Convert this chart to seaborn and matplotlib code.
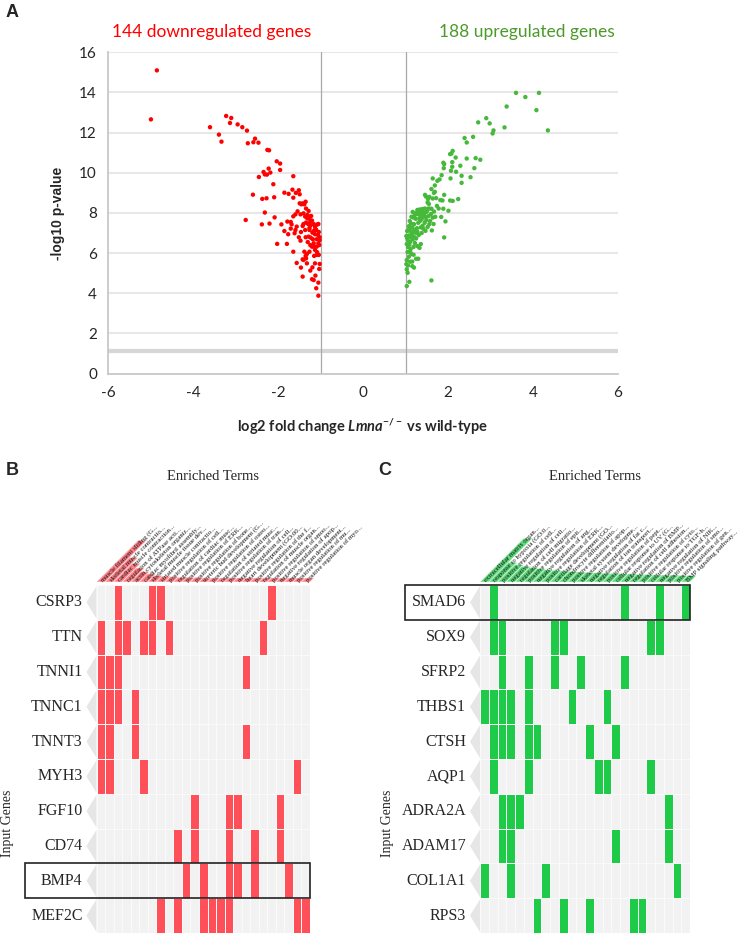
import pandas as pd
import matplotlib
matplotlib.use('Agg')
import matplotlib.pyplot as plt
from matplotlib.colors import ListedColormap
from matplotlib.patches import Polygon, Rectangle
import seaborn as sns

# ---- Panel A: volcano plot (log2 fold change, -log10 p-value)
down_lfc = [-4.85, -4.99, -3.60, -3.22, -3.10, -3.13, -3.39, -3.33, -2.95, -2.84, -2.73, -2.71, -2.58, -2.54,
            -2.46, -2.25, -2.21, -2.03, -1.95, -1.95, -2.34, -2.31, -2.22, -2.18, -2.26, -2.45, -1.64, -2.11,
            -2.59, -2.37, -2.27, -2.09, -1.85, -1.75, -1.66, -1.58, -1.51, -1.49, -1.64, -2.76, -2.31, -2.38,
            -2.20, -2.08, -2.02, -1.79, -1.92, -1.85, -1.78, -1.76, -1.70, -1.68, -1.64, -1.61, -1.59, -1.56,
            -1.59, -1.54, -1.49, -1.45, -1.42, -1.38, -1.35, -1.40, -1.34, -1.47, -1.36, -1.31, -1.27, -1.26,
            -1.31, -1.24, -1.20, -1.34, -1.29, -1.23, -1.16, -1.13, -1.08, -1.05, -1.10, -1.15, -1.26, -1.36,
            -1.42, -1.46, -1.51, -1.47, -1.35, -1.28, -1.23, -1.18, -1.13, -1.06, -1.02, -1.02, -1.05, -1.09,
            -1.16, -1.20, -1.26, -1.38, -1.32, -1.35, -1.13, -1.09, -1.04, -1.15, -1.64, -1.56, -1.46, -1.42,
            -1.40, -1.32, -1.34, -1.24, -1.19, -1.13, -1.02, -1.03, -1.42, -1.20, -1.16, -1.12, -1.05, -1.10,
            -1.05, -1.09, -1.15, -1.26, -1.19, -1.28, -1.22, -1.12, -1.04, -1.03, -1.08, -1.30, -1.24, -1.70,
            -1.40]
down_p = [15.10, 12.66, 12.27, 12.83, 12.73, 12.48, 11.90, 11.55, 12.41, 12.27, 12.10, 11.47, 11.52, 11.70,
          11.50, 11.14, 11.12, 10.57, 10.46, 10.14, 10.04, 9.92, 10.21, 10.01, 9.91, 9.79, 9.83, 9.43,
          8.91, 8.70, 8.73, 8.78, 9.01, 8.95, 9.16, 9.00, 9.13, 8.93, 8.76, 7.65, 8.02, 7.43,
          7.47, 7.78, 6.46, 6.46, 7.43, 7.10, 7.57, 6.94, 7.22, 7.43, 7.83, 6.99, 7.15, 7.32,
          7.93, 8.08, 8.48, 8.43, 8.48, 8.43, 8.56, 7.98, 8.22, 7.93, 7.82, 7.90, 7.82, 7.72,
          7.73, 7.58, 7.62, 7.52, 7.45, 7.39, 7.45, 7.32, 7.42, 7.45, 7.15, 7.12, 7.25, 7.15,
          7.35, 7.05, 6.79, 6.62, 6.79, 6.82, 6.77, 6.69, 6.94, 6.90, 6.79, 6.65, 6.49, 6.32,
          6.49, 6.32, 6.07, 6.07, 5.96, 5.86, 6.16, 5.91, 5.91, 5.86, 6.07, 5.51, 5.28, 5.69,
          5.66, 5.49, 5.74, 5.13, 5.29, 5.49, 5.46, 5.21, 4.83, 4.70, 4.66, 4.88, 4.53, 4.25,
          3.88, 6.69, 6.32, 7.15, 7.02, 8.10, 7.85, 7.20, 7.05, 6.40, 6.05, 6.55, 6.40, 7.55,
          7.45]
up_lfc = [3.60, 3.82, 4.14, 3.38, 4.08, 4.35, 2.71, 2.90, 2.98, 3.33, 3.07, 3.05, 2.39, 2.59, 2.44, 2.11,
          2.08, 2.05, 2.18, 2.44, 2.65, 2.76, 1.89, 1.91, 2.10, 1.90, 2.10, 2.29, 2.07, 2.19, 2.62, 1.85,
          2.32, 2.53, 1.64, 1.80, 1.75, 2.06, 2.32, 1.69, 1.61, 1.69, 1.67, 1.46, 1.48, 1.56, 1.91, 1.64,
          1.53, 1.52, 1.72, 1.82, 1.87, 2.05, 2.11, 2.24, 1.33, 1.39, 1.45, 1.52, 1.56, 1.61, 1.78, 1.89,
          2.01, 1.67, 1.50, 1.42, 1.29, 1.36, 1.41, 1.47, 1.54, 1.64, 1.70, 1.14, 1.19, 1.24, 1.33, 1.38,
          1.94, 1.13, 1.20, 1.30, 1.45, 1.56, 1.08, 1.16, 1.27, 1.36, 1.42, 1.47, 1.62, 1.11, 1.19, 1.25,
          1.28, 1.38, 1.02, 1.08, 1.13, 1.20, 1.91, 1.05, 1.11, 1.17, 1.25, 1.03, 1.09, 1.36, 1.19, 1.33,
          1.05, 1.11, 1.14, 1.19, 1.08, 1.25, 1.30, 1.03, 1.11, 1.16, 1.02, 1.06, 1.16, 1.20, 1.03, 1.05,
          1.09, 1.61, 1.03, 1.22, 1.26, 1.35, 1.44, 1.49, 1.58, 1.34, 1.10, 1.04, 1.15, 1.06, 1.12, 1.22,
          1.28, 1.40, 1.52, 1.60, 1.74, 1.55, 1.84, 1.66, 1.21, 1.31, 1.04, 1.09, 1.17, 1.28]
up_p = [13.98, 13.77, 13.98, 13.30, 13.12, 12.11, 12.51, 12.72, 12.46, 12.26, 12.11, 11.96, 11.73, 11.79, 11.51, 11.09,
        10.96, 10.93, 10.76, 10.71, 10.73, 10.65, 10.50, 10.43, 10.53, 10.23, 10.30, 10.35, 10.10, 10.05, 10.23, 9.88,
        9.85, 9.78, 9.72, 9.67, 9.60, 9.72, 9.50, 9.37, 9.19, 9.05, 9.00, 8.90, 8.82, 8.80, 8.90, 8.72,
        8.69, 8.52, 8.74, 8.64, 8.62, 8.62, 8.60, 8.69, 8.17, 8.19, 8.22, 8.21, 8.22, 8.21, 8.22, 8.21,
        8.11, 8.07, 8.06, 8.04, 7.94, 7.92, 7.81, 7.81, 7.84, 7.77, 7.81, 7.81, 7.77, 7.71, 7.74, 7.68,
        7.58, 7.48, 7.44, 7.51, 7.51, 7.44, 7.34, 7.28, 7.24, 7.28, 7.21, 7.11, 7.13, 7.11, 7.04, 7.01,
        7.06, 7.00, 6.85, 6.88, 6.78, 6.81, 6.78, 6.65, 6.56, 6.68, 6.73, 6.45, 6.41, 6.45, 6.31, 6.26,
        6.05, 6.08, 5.95, 5.92, 5.82, 5.72, 5.72, 5.65, 5.57, 5.58, 5.45, 5.38, 5.35, 5.28, 5.19, 5.02,
        4.57, 4.64, 4.36, 7.90, 8.00, 8.05, 7.95, 7.65, 7.60, 7.60, 7.60, 7.10, 6.95, 6.30, 6.20, 6.50,
        6.35, 7.35, 7.30, 7.95, 8.35, 8.45, 7.80, 7.45, 7.15, 6.90, 6.75, 7.22, 8.05, 8.15]

# ---- Panel B: muscle-related enrichment clustergram
genes_b = ['CSRP3', 'TTN', 'TNNI1', 'TNNC1', 'TNNT3', 'MYH3', 'FGF10', 'CD74', 'BMP4', 'MEF2C']
terms_b = ['muscle filament sliding (G...', 'skeletal muscle contractio...', 'cardiac muscle contraction...',
           'regulation of ATPase acti...', 'actin cytoskeleton organiz...', 'cardiac myofibril assembly...',
           'skeletal muscle tissue dev...', 'striated muscle contractio...', 'positive regulation of cell...',
           'regulation of cardiac musc...', 'positive regulation of ERK...', 'positive regulation of bone...',
           'ureteric bud development (G...', 'positive regulation of osteo...', 'regulation of striated musc...',
           'positive regulation of tran...', 'negative regulation of cell...', 'heart development (GO:00...',
           'positive regulation of the f...', 'regulation of muscle organ...', 'positive regulation of smoo...',
           'negative regulation of apop...', 'muscle organ development...', 'positive regulation of mu...',
           'positive regulation of myo...']
hits_b = [[2, 6, 7, 20], [0, 2, 3, 5, 6, 8, 19], [0, 1, 2, 17], [0, 1, 2, 4], [0, 1, 4, 17],
          [0, 1, 5, 23], [11, 15, 16, 21], [9, 11, 15, 18, 21], [10, 12, 15, 16, 18, 22],
          [7, 9, 12, 13, 14, 15, 23, 24]]
score_b = [0.72, 0.42, 0.32, 0.24, 0.18, 0.14, 0.11, 0.1, 0.09, 0.08, 0.08, 0.08, 0.07, 0.07, 0.07,
           0.07, 0.07, 0.07, 0.07, 0.07, 0.07, 0.07, 0.07, 0.07, 0.07]
boxed_b = 'BMP4'

# ---- Panel C: fibrosis / ECM enrichment clustergram
genes_c = ['SMAD6', 'SOX9', 'SFRP2', 'THBS1', 'CTSH', 'AQP1', 'ADRA2A', 'ADAM17', 'COL1A1', 'RPS3']
terms_c = ['extracellular matrix organ...', 'response to hypoxia (GO:0...', 'positive regulation of cell...',
           'negative regulation of cell...', 'regulation of cell migratio...', 'positive regulation of epit...',
           'negative regulation of ang...', 'positive regulation of ERK...', 'cartilage development (GO...',
           'chondrocyte differentiatio...', 'positive regulation of apop...', 'skeletal system developme...',
           'negative regulation of fat c...', 'regulation of ion transport...', 'positive regulation of pept...',
           'cellular response to UV (G...', 'negative regulation of BMP...', 'regulation of cell adhesion...',
           'positive regulation of cyto...', 'cellular response to TGF-b...', 'negative regulation of NIK...',
           'positive regulation of smo...', 'positive regulation of gen...', 'BMP signaling pathway...']
hits_c = [[1, 16, 20, 23], [1, 2, 8, 9, 19, 20], [2, 5, 8, 11, 16], [0, 1, 2, 3, 5, 10, 14],
          [1, 2, 3, 5, 6, 12, 15], [1, 5, 13, 14, 19], [2, 3, 4, 21], [2, 3, 15, 21],
          [0, 3, 7, 22], [6, 9, 12, 17, 18]]
score_c = [0.75, 0.34, 0.3, 0.27, 0.25, 0.23, 0.21, 0.2, 0.19, 0.18, 0.17, 0.16, 0.16, 0.15, 0.15,
           0.14, 0.14, 0.13, 0.13, 0.12, 0.12, 0.12, 0.11, 0.11]
boxed_c = 'SMAD6'

sns.set_style('white')
plt.rcParams['font.family'] = ['Lato', 'DejaVu Sans']
plt.rcParams['axes.unicode_minus'] = False
plt.rcParams['mathtext.fontset'] = 'custom'
plt.rcParams['mathtext.rm'] = 'Lato:bold'
plt.rcParams['mathtext.it'] = 'Lato:italic:bold'

W, H = 750, 936
fig = plt.figure(figsize=(7.5, 9.36), dpi=100)


def rect(l, t, r, b):
    # pixel edges -> figure fraction rect for add_axes
    return [l / W, 1 - b / H, (r - l) / W, (b - t) / H]


# ================= A =================
vol = pd.DataFrame({'lfc': down_lfc + up_lfc, 'p': down_p + up_p,
                    'dir': ['down'] * len(down_lfc) + ['up'] * len(up_lfc)})
axA = fig.add_axes(rect(108, 52.3, 618, 373.6))
for v in range(2, 17, 2):
    axA.axhline(v, color='#e3e3e3', lw=1.2, zorder=0)
axA.axhline(1.15, color='#d6d6d6', lw=3, zorder=0)
axA.axvline(-1, color='#a8a8a8', lw=0.9, zorder=1)
axA.axvline(1, color='#a8a8a8', lw=0.9, zorder=1)
sns.scatterplot(data=vol, x='lfc', y='p', hue='dir', palette={'down': '#ff0000', 'up': '#46b83a'},
                s=10, linewidth=0, legend=False, ax=axA, zorder=3)
axA.set_xlim(-6, 6)
axA.set_ylim(0, 16)
axA.set_xticks(range(-6, 7, 2))
axA.set_xticks(range(-5, 6, 2), minor=True)
axA.set_yticks(range(0, 17, 2))
for s in ['top', 'right']:
    axA.spines[s].set_visible(False)
for s in ['left', 'bottom']:
    axA.spines[s].set_color('#c4c4c4')
    axA.spines[s].set_linewidth(1.2)
axA.tick_params(which='both', direction='out', length=5, color='#c4c4c4', labelsize=11, pad=4)
axA.tick_params(axis='y', length=4)
axA.set_ylabel('-log10 p-value', fontsize=10, fontweight='bold', family='Liberation Sans')
axA.yaxis.set_label_coords(-0.085, 0.5)
axA.set_xlabel(r'log2 fold change $\mathit{Lmna}^{-/-}$ vs wild-type', fontsize=10.5, fontweight='bold')
axA.xaxis.set_label_coords(0.5, -0.135)
fig.text(212 / W, 1 - 32 / H, '144 downregulated genes', color='#ff0000', fontsize=12.5, ha='center', va='center')
fig.text(527 / W, 1 - 32 / H, '188 upregulated genes', color='#4c9a2a', fontsize=12.5, ha='center', va='center')
fig.text(6 / W, 1 - 4 / H, 'A', fontsize=13, fontweight='bold', family='Liberation Sans', va='top')


# ================= B / C =================
def clustergram(l, t, r, b, genes, terms, hits, scores, boxed, box_left, hot, letter, letter_x, title_x, ylab_x):
    mat = pd.DataFrame(0, index=genes, columns=terms)
    for gi, cols in enumerate(hits):
        mat.iloc[gi, cols] = 1
    ax = fig.add_axes(rect(l, t, r, b))
    sns.heatmap(mat, cmap=ListedColormap(['#f2f2f2', hot]), vmin=0, vmax=1, cbar=False,
                linewidths=0.7, linecolor='#fafafa', xticklabels=False, yticklabels=True, ax=ax)
    ax.tick_params(axis='y', length=0, pad=10)
    for lab in ax.get_yticklabels():
        lab.set_rotation(0)
        lab.set_fontfamily('Liberation Serif')
        lab.set_fontsize(11.5)
    ax.set_ylabel('Input Genes', family='Liberation Serif', fontsize=10)
    ax.yaxis.set_label_coords(ylab_x, 0.316)
    cw = (r - l) / len(terms)
    tab = 10 / cw
    for gi in range(len(genes)):
        ax.add_patch(Polygon([(0, gi + 0.03), (-tab, gi + 0.5), (0, gi + 0.97)], closed=True,
                             facecolor='#e6e6e6', lw=0, clip_on=False))
    k = genes.index(boxed)
    ax.add_patch(Rectangle(((box_left - l) / cw, k), len(terms) - (box_left - l) / cw, 1,
                           fill=False, edgecolor='#222222', lw=1.2, clip_on=False, zorder=5))
    # diagonal term labels
    hx = fig.add_axes(rect(l, t - 66, r + 75, t - 3))
    hx.set_xlim(0, r + 75 - l)
    hx.set_ylim(0, 63)
    hx.axis('off')
    L = 58
    for i, (term, sc) in enumerate(zip(terms, scores)):
        x0 = i * cw
        hl = sc * L
        hx.add_patch(Polygon([(x0, 0), (x0 + cw, 0), (x0 + cw + hl, hl), (x0 + hl, hl)],
                             closed=True, facecolor=hot, alpha=0.7, edgecolor='white', lw=0.4))
        hx.text(x0 + cw / 2 + 1.2, 1.2, term, rotation=45, rotation_mode='anchor', ha='left', va='center',
                fontsize=4.9, family='Liberation Serif', color='#111111')
    fig.text(title_x / W, 1 - 477 / H, 'Enriched Terms', family='Liberation Serif', fontsize=10.5,
             ha='center', va='center')
    fig.text(letter_x / W, 1 - 462 / H, letter, fontsize=13, fontweight='bold', family='Liberation Sans', va='top')


clustergram(96.5, 585, 310, 933, genes_b, terms_b, hits_b, score_b, boxed_b, 25, '#ff4f58', 'B', 6, 213, -0.385)
clustergram(480, 585, 690, 933, genes_c, terms_c, hits_c, score_c, boxed_c, 405, '#1ecb48', 'C', 378, 595, -0.41)

fig.savefig('out.png', dpi=100)
